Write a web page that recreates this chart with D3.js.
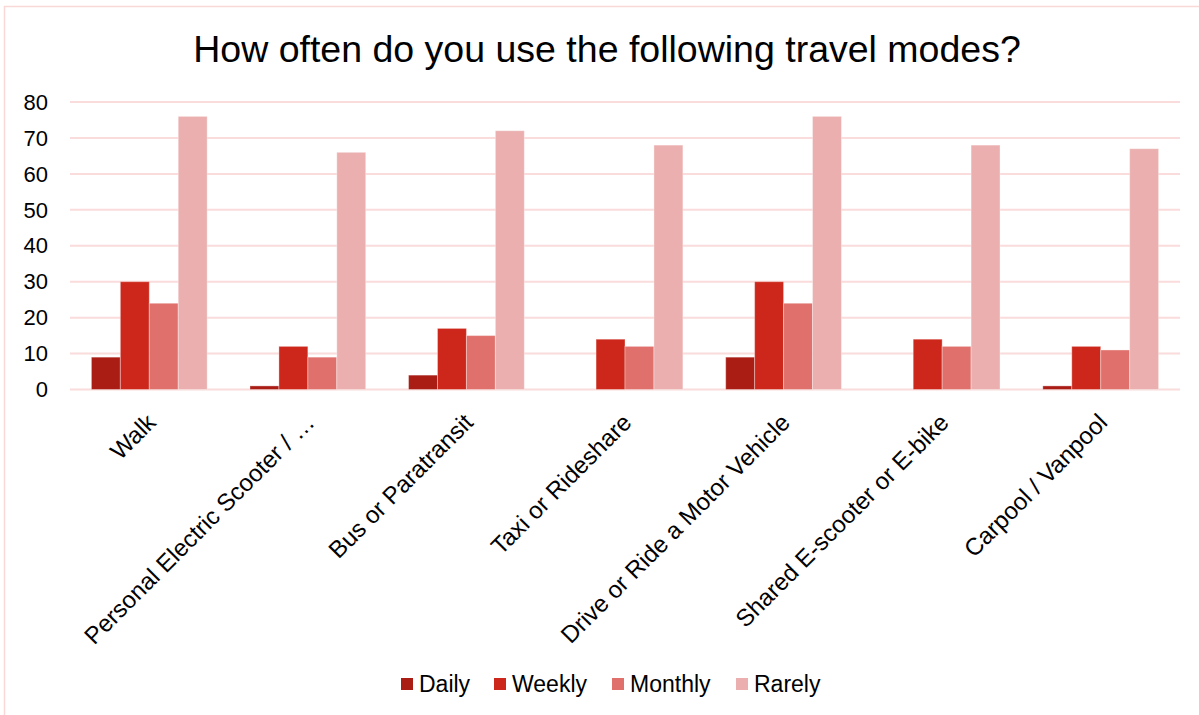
<!DOCTYPE html>
<html>
<head>
<meta charset="utf-8">
<script src="https://cdn.jsdelivr.net/npm/d3@7.9.0/dist/d3.min.js"></script>
<style>
  body { margin: 0; background: #fff; }
  text { font-family: Arial, "Liberation Sans", sans-serif; fill: #000; }
</style>
</head>
<body>
<svg id="chart" width="1199" height="715"></svg>
<script>
// categories and series
const modes = ['Walk', 'Personal Electric Scooter / …', 'Bus or Paratransit', 'Taxi or Rideshare',
  'Drive or Ride a Motor Vehicle', 'Shared E-scooter or E-bike', 'Carpool / Vanpool'];
const seriesNames = ['Daily', 'Weekly', 'Monthly', 'Rarely'];
const daily   = [9, 1, 4, 0, 9, 0, 1];
const weekly  = [30, 12, 17, 14, 30, 14, 12];
const monthly = [24, 9, 15, 12, 24, 12, 11];
const rarely  = [76, 66, 72, 68, 76, 68, 67];
const yTicks = [0, 10, 20, 30, 40, 50, 60, 70, 80];
const colors = ['#a91d15', '#cc271a', '#e0706b', '#eaafae'];

const series = [daily, weekly, monthly, rarely];

const svg = d3.select('#chart');

// outer border (runs past the bottom/right edge like the reference)
svg.append('rect')
  .attr('x', 4.5).attr('y', 6.5)
  .attr('width', 1210).attr('height', 730)
  .attr('fill', 'none')
  .attr('stroke', '#f8d9d7')
  .attr('stroke-width', 1.5);

svg.append('text')
  .attr('x', 607).attr('y', 62)
  .attr('text-anchor', 'middle')
  .style('font-size', '37.5px')
  .text('How often do you use the following travel modes?');

const x0 = d3.scaleBand()
  .domain(modes)
  .range([70, 1180])
  .paddingInner(0.27)
  .paddingOuter(0.135);

const x1 = d3.scaleBand()
  .domain(seriesNames)
  .range([0, x0.bandwidth()]);

const y = d3.scaleLinear()
  .domain([0, 80])
  .range([389.5, 102]);

// gridlines
svg.append('g')
  .selectAll('line')
  .data(yTicks)
  .join('line')
  .attr('x1', 70).attr('x2', 1180)
  .attr('y1', d => y(d)).attr('y2', d => y(d))
  .attr('stroke', '#f9dcdb')
  .attr('stroke-width', 2);

// y tick labels
svg.append('g')
  .selectAll('text')
  .data(yTicks)
  .join('text')
  .attr('x', 48)
  .attr('y', d => y(d))
  .attr('dy', '0.35em')
  .attr('text-anchor', 'end')
  .style('font-size', '22px')
  .text(d => d);

// bars
const groups = svg.append('g')
  .selectAll('g')
  .data(modes)
  .join('g')
  .attr('transform', d => `translate(${x0(d)},0)`);

groups.selectAll('rect')
  .data((d, i) => seriesNames.map((s, j) => ({ s, j, v: series[j][i] })))
  .join('rect')
  .attr('x', d => x1(d.s))
  .attr('y', d => y(d.v))
  .attr('width', x1.bandwidth())
  .attr('height', d => y(0) - y(d.v))
  .attr('fill', d => colors[d.j])
  .attr('stroke', d => d.v > 0 ? 'rgba(255,255,255,0.35)' : 'none')
  .attr('stroke-width', 1);

// category labels, rotated
svg.append('g')
  .selectAll('text')
  .data(modes)
  .join('text')
  .attr('transform', d => `translate(${x0(d) + x0.bandwidth() / 2 + 8},${424}) rotate(-45)`)
  .attr('text-anchor', 'end')
  .style('font-size', '24px')
  .text(d => d);

// legend
const legendX = [401, 494, 612, 736];
const legend = svg.append('g')
  .selectAll('g')
  .data(seriesNames)
  .join('g')
  .attr('transform', (d, i) => `translate(${legendX[i]},678)`);

legend.append('rect')
  .attr('width', 12).attr('height', 12)
  .attr('fill', (d, i) => colors[i]);

legend.append('text')
  .attr('x', 18).attr('y', 14)
  .style('font-size', '23px')
  .text(d => d);
</script>
</body>
</html>
